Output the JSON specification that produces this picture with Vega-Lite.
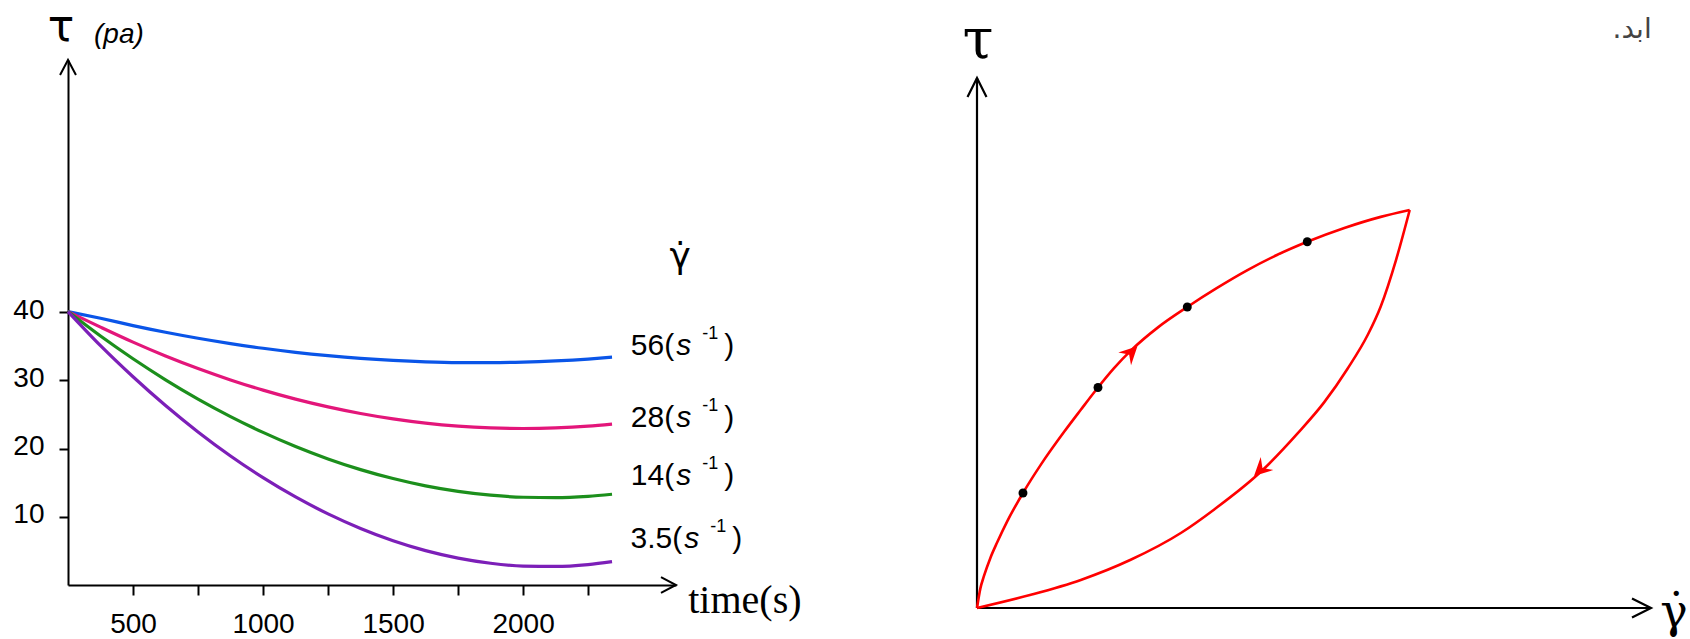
{
  "$schema": "https://vega.github.io/schema/vega-lite/v6.json",
  "background": "white",
  "padding": {"left": 12, "top": 6, "right": 0, "bottom": 0},
  "config": {"view": {"stroke": null}, "axis": {"grid": false}},
  "spacing": 301,
  "bounds": "flush",
  "datasets": {
    "curves": [
      {"s":"56","t":250,"v":40.1},{"s":"56","t":375,"v":39.12},{"s":"56","t":500,"v":38.05},{"s":"56","t":625,"v":37.07},{"s":"56","t":750,"v":36.19},{"s":"56","t":875,"v":35.41},{"s":"56","t":1000,"v":34.72},{"s":"56","t":1125,"v":34.13},{"s":"56","t":1250,"v":33.64},{"s":"56","t":1375,"v":33.24},{"s":"56","t":1500,"v":32.94},{"s":"56","t":1625,"v":32.73},{"s":"56","t":1750,"v":32.62},{"s":"56","t":1875,"v":32.61},{"s":"56","t":2000,"v":32.69},{"s":"56","t":2125,"v":32.87},{"s":"56","t":2250,"v":33.14},{"s":"56","t":2342,"v":33.41},
      {"s":"28","t":250,"v":40.1},{"s":"28","t":375,"v":37.82},{"s":"28","t":500,"v":35.62},{"s":"28","t":625,"v":33.59},{"s":"28","t":750,"v":31.75},{"s":"28","t":875,"v":30.08},{"s":"28","t":1000,"v":28.58},{"s":"28","t":1125,"v":27.26},{"s":"28","t":1250,"v":26.12},{"s":"28","t":1375,"v":25.15},{"s":"28","t":1500,"v":24.36},{"s":"28","t":1625,"v":23.74},{"s":"28","t":1750,"v":23.3},{"s":"28","t":1875,"v":23.04},{"s":"28","t":2000,"v":22.95},{"s":"28","t":2125,"v":23.04},{"s":"28","t":2250,"v":23.3},{"s":"28","t":2342,"v":23.61},
      {"s":"14","t":250,"v":40.1},{"s":"14","t":375,"v":36.51},{"s":"14","t":500,"v":33.18},{"s":"14","t":625,"v":30.1},{"s":"14","t":750,"v":27.27},{"s":"14","t":875,"v":24.7},{"s":"14","t":1000,"v":22.38},{"s":"14","t":1125,"v":20.31},{"s":"14","t":1250,"v":18.49},{"s":"14","t":1375,"v":16.92},{"s":"14","t":1500,"v":15.61},{"s":"14","t":1625,"v":14.54},{"s":"14","t":1750,"v":13.73},{"s":"14","t":1875,"v":13.17},{"s":"14","t":2000,"v":12.87},{"s":"14","t":2125,"v":12.81},{"s":"14","t":2250,"v":13.01},{"s":"14","t":2342,"v":13.31},
      {"s":"3.5","t":250,"v":40.1},{"s":"3.5","t":375,"v":35.1},{"s":"3.5","t":500,"v":30.54},{"s":"3.5","t":625,"v":26.32},{"s":"3.5","t":750,"v":22.45},{"s":"3.5","t":875,"v":18.92},{"s":"3.5","t":1000,"v":15.74},{"s":"3.5","t":1125,"v":12.91},{"s":"3.5","t":1250,"v":10.43},{"s":"3.5","t":1375,"v":8.29},{"s":"3.5","t":1500,"v":6.49},{"s":"3.5","t":1625,"v":5.04},{"s":"3.5","t":1750,"v":3.94},{"s":"3.5","t":1875,"v":3.19},{"s":"3.5","t":2000,"v":2.78},{"s":"3.5","t":2125,"v":2.72},{"s":"3.5","t":2250,"v":3.0},{"s":"3.5","t":2342,"v":3.43}
    ],
    "curveLabels": [
      {"t":2581,"v":33.7,"n":"56("},
      {"t":2581,"v":23.2,"n":"28("},
      {"t":2581,"v":14.7,"n":"14("},
      {"t":2612,"v":5.4,"n":"3.5("}
    ],
    "loop": [
      {"b":"up","x":0,"y":0},{"b":"up","x":0.5,"y":3.7},{"b":"up","x":1,"y":5.9},{"b":"up","x":2,"y":9.5},{"b":"up","x":3,"y":12.4},{"b":"up","x":4.5,"y":16.4},{"b":"up","x":6.82,"y":21.7},{"b":"up","x":9.5,"y":27.1},{"b":"up","x":12.9,"y":33.2},{"b":"up","x":15.4,"y":37.4},{"b":"up","x":17.95,"y":41.6},{"b":"up","x":20.3,"y":45.2},{"b":"up","x":22.85,"y":48.6},{"b":"up","x":26.9,"y":53.0},{"b":"up","x":31.2,"y":56.8},{"b":"up","x":35.5,"y":60.3},{"b":"up","x":40.2,"y":63.8},{"b":"up","x":44.5,"y":66.6},{"b":"up","x":49.0,"y":69.1},{"b":"up","x":54.5,"y":71.7},{"b":"up","x":59.9,"y":73.8},{"b":"up","x":64.2,"y":75.1},
      {"b":"down","x":0,"y":0},{"b":"down","x":8.0,"y":2.5},{"b":"down","x":15.4,"y":5.3},{"b":"down","x":22.8,"y":9.1},{"b":"down","x":30.3,"y":14.2},{"b":"down","x":35.2,"y":18.6},{"b":"down","x":42.1,"y":25.7},{"b":"down","x":47.6,"y":33.0},{"b":"down","x":51.5,"y":38.8},{"b":"down","x":55.0,"y":45.2},{"b":"down","x":58.0,"y":51.6},{"b":"down","x":59.9,"y":56.9},{"b":"down","x":62.2,"y":65.8},{"b":"down","x":64.2,"y":75.1}
    ],
    "dots": [{"x":6.82,"y":21.7},{"x":17.95,"y":41.6},{"x":31.2,"y":56.8},{"x":49.0,"y":69.1}],
    "axes2": [{"x":0,"y":0,"x2":0,"y2":100},{"x":0,"y":0,"x2":100,"y2":0}]
  },
  "hconcat": [
    {
      "width": 608,
      "height": 525,
      "encoding": {
        "x": {"field":"t","type":"quantitative","scale":{"domain":[250,2588],"nice":false,"zero":false},
              "axis":{"title":null,"values":[500,750,1000,1250,1500,1750,2000,2250],"format":"d","labelExpr":"datum.value % 500 === 0 ? datum.label : ''","tickSize":10,"tickWidth":2,"tickColor":"black","domainColor":"black","domainWidth":2,"labelFont":"Liberation Sans","labelFontSize":28,"labelColor":"black","labelPadding":15,"labelOverlap":false,"labelFlush":false,"grid":false}},
        "y": {"field":"v","type":"quantitative","scale":{"domain":[0,77],"nice":false,"zero":false},
              "axis":{"title":null,"values":[10,20,30,40],"tickSize":9,"tickWidth":2,"tickColor":"black","domainColor":"black","domainWidth":2,"labelFont":"Liberation Sans","labelFontSize":28,"labelColor":"black","labelPadding":15,"labelOffset":-2,"grid":false}}
      },
      "layer": [
        {
          "data": {"name":"curves"},
          "mark": {"type":"line","interpolate":"monotone","strokeWidth":3.2},
          "encoding": {"color":{"field":"s","type":"nominal","scale":{"domain":["56","28","14","3.5"],"range":["#0a55e8","#e3167a","#1c8f1c","#7c1fb8"]},"legend":null}}
        },
        {
          "data": {"name":"curveLabels"},
          "mark": {"type":"text","align":"right","baseline":"alphabetic","font":"Liberation Sans","fontSize":30,"color":"black"},
          "encoding": {"text":{"field":"n"}}
        },
        {
          "data": {"name":"curveLabels"},
          "mark": {"type":"text","align":"left","baseline":"alphabetic","font":"Liberation Sans","fontSize":30,"fontStyle":"italic","color":"black","dx":2,"text":"s"}
        },
        {
          "data": {"name":"curveLabels"},
          "mark": {"type":"text","align":"left","baseline":"alphabetic","font":"Liberation Sans","fontSize":18,"color":"black","dx":28,"dy":-16,"text":"-1"}
        },
        {
          "data": {"name":"curveLabels"},
          "mark": {"type":"text","align":"left","baseline":"alphabetic","font":"Liberation Sans","fontSize":30,"color":"black","dx":50,"text":")"}
        },
        {
          "data": {"values":[{"t":223,"v":79.75,"txt":"τ"}]},
          "mark": {"type":"text","align":"center","baseline":"alphabetic","font":"DejaVu Sans","fontSize":44,"color":"black"},
          "encoding": {"text":{"field":"txt"}}
        },
        {
          "data": {"values":[{"t":350,"v":79.5,"txt":"(pa)"}]},
          "mark": {"type":"text","align":"left","baseline":"alphabetic","font":"Liberation Sans","fontSize":28,"fontStyle":"italic","color":"black"},
          "encoding": {"text":{"field":"txt"}}
        },
        {
          "data": {"values":[{"t":2635,"v":-4.1,"txt":"time(s)"}]},
          "mark": {"type":"text","align":"left","baseline":"alphabetic","font":"Liberation Serif","fontSize":40,"color":"black"},
          "encoding": {"text":{"field":"txt"}}
        },
        {
          "data": {"values":[{"t":2604,"v":46.5,"txt":"γ̇"}]},
          "mark": {"type":"text","align":"center","baseline":"alphabetic","font":"DejaVu Sans","fontSize":36,"color":"black"},
          "encoding": {"text":{"field":"txt"}}
        },
        {
          "data": {"values":[{"t":250,"v":77}]},
          "mark": {"type":"point","shape":"M-0.53,1L0,0L0.53,1","size":900,"filled":false,"color":"black","strokeWidth":2,"opacity":1,"angle":0}
        },
        {
          "data": {"values":[{"t":2588,"v":0}]},
          "mark": {"type":"point","shape":"M-0.53,1L0,0L0.53,1","size":900,"filled":false,"color":"black","strokeWidth":2,"opacity":1,"angle":90}
        }
      ]
    },
    {
      "width": 674,
      "height": 548,
      "encoding": {
        "x": {"field":"x","type":"quantitative","scale":{"domain":[0,100],"nice":false,"zero":false},"axis":null},
        "y": {"field":"y","type":"quantitative","scale":{"domain":[0,103.4],"nice":false,"zero":false},"axis":null}
      },
      "layer": [
        {
          "data": {"name":"axes2"},
          "mark": {"type":"rule","color":"black","strokeWidth":2.2},
          "encoding": {"x2":{"field":"x2"},"y2":{"field":"y2"}}
        },
        {
          "data": {"name":"loop"},
          "mark": {"type":"line","interpolate":"monotone","color":"#ff0000","strokeWidth":2.6},
          "encoding": {"detail":{"field":"b","type":"nominal"}}
        },
        {
          "data": {"name":"dots"},
          "mark": {"type":"point","shape":"circle","filled":true,"color":"black","size":80,"opacity":1}
        },
        {
          "data": {"values":[{"x":23.8,"y":49.4}]},
          "mark": {"type":"point","shape":"M0,0L-0.5,1L0,0.65L0.5,1Z","size":1300,"filled":true,"color":"#ff0000","opacity":1,"angle":45}
        },
        {
          "data": {"values":[{"x":41.1,"y":24.9}]},
          "mark": {"type":"point","shape":"M0,0L-0.5,1L0,0.65L0.5,1Z","size":1300,"filled":true,"color":"#ff0000","opacity":1,"angle":226}
        },
        {
          "data": {"values":[{"x":0,"y":100}]},
          "mark": {"type":"point","shape":"M-0.5,1L0,0L0.5,1","size":1444,"filled":false,"color":"black","strokeWidth":2.2,"opacity":1,"angle":0}
        },
        {
          "data": {"values":[{"x":100,"y":0}]},
          "mark": {"type":"point","shape":"M-0.5,1L0,0L0.5,1","size":1444,"filled":false,"color":"black","strokeWidth":2.2,"opacity":1,"angle":90}
        },
        {
          "data": {"values":[{"x":0.15,"y":103.8,"txt":"τ"}]},
          "mark": {"type":"text","align":"center","baseline":"alphabetic","font":"DejaVu Serif","fontSize":56,"color":"black"},
          "encoding": {"text":{"field":"txt"}}
        },
        {
          "data": {"values":[{"x":103.4,"y":-3.6,"txt":"γ̇"}]},
          "mark": {"type":"text","align":"center","baseline":"alphabetic","font":"DejaVu Serif","fontSize":46,"color":"black"},
          "encoding": {"text":{"field":"txt"}}
        },
        {
          "data": {"values":[{"x":100.1,"y":107.5,"txt":"ابد.\u200f"}]},
          "mark": {"type":"text","align":"right","baseline":"alphabetic","font":"DejaVu Sans","fontSize":28,"color":"#444444"},
          "encoding": {"text":{"field":"txt"}}
        }
      ]
    }
  ]
}
